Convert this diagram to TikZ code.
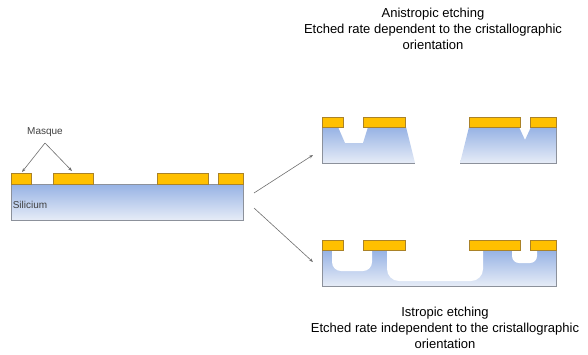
\documentclass[tikz,border=0pt]{standalone}
\usepackage{fontspec}
\setmainfont{Liberation Sans}
\usepackage{tikz}
\usetikzlibrary{arrows.meta}

\definecolor{siltop}{RGB}{150,178,228}
\definecolor{silbot}{RGB}{230,236,247}
\definecolor{maskfill}{RGB}{255,192,0}
\definecolor{maskline}{RGB}{170,130,40}
\definecolor{edge}{RGB}{140,145,155}
\definecolor{arrowgray}{RGB}{110,110,110}

\begin{document}
\begin{tikzpicture}[x=1pt, y=-1pt,
    mask/.style={fill=maskfill, draw=maskline, line width=0.6pt},
    silicon/.style={top color=siltop, bottom color=silbot},
    border/.style={draw=edge, line width=0.8pt},
    pointer/.style={draw=arrowgray, line width=0.6pt, -{Stealth[length=4pt,width=3pt]}},
    caption/.style={align=center, font=\fontsize{13}{16}\selectfont},
    tag/.style={font=\fontsize{10}{12}\selectfont, text=black!75, inner sep=0pt}]
    \useasboundingbox (0,0) rectangle (588,354);

    % wafer before etching
    \shade[silicon] (11,184) rectangle (243,220);
    \draw[border] (11,184) rectangle (243,220);
    \foreach \a/\b in {11/31, 53/93, 157/208, 218/243}
        \filldraw[mask] (\a,173) rectangle (\b,184);
    \node[tag] (si) at (30,205) {Silicium};
    \node[tag] (masque) at (45,132) {Masque};
    \coordinate (apex) at (45,143);
    \coordinate (m1) at (22,172);
    \coordinate (m2) at (72,171);
    \draw[pointer] (apex) -- (m1);
    \draw[pointer] (apex) -- (m2);

    % anisotropic: trench and V groove
    \shade[silicon] (322,127) -- (338,127) -- (345,143) -- (363,143) -- (368,127)
        -- (406,127) -- (415,163) -- (322,163) -- cycle;
    \draw[border] (322,127) -- (322,163) -- (415,163);
    \shade[silicon] (469,127) -- (519,127) -- (525,140) -- (531,127) -- (556,127)
        -- (556,163) -- (460,163) -- cycle;
    \draw[border] (460,163) -- (556,163) -- (556,127);

    % isotropic: rounded cavities under the openings
    \shade[silicon] (322,250) rectangle (556,286);
    \fill[white, rounded corners=9] (332,249) -- (332,271) -- (372,271) -- (372,249);
    \fill[white, rounded corners=12] (387,249) -- (387,281) -- (483,281) -- (483,249);
    \fill[white, rounded corners=7] (512,249) -- (512,263) -- (537,263) -- (537,249);
    \draw[border] (322,250) -- (322,286) -- (556,286) -- (556,250);

    \foreach \y in {117,240}
    \foreach \a/\b in {322/343, 363/405, 469/520, 530/556}
        \filldraw[mask] (\a,\y) rectangle (\b,{\y+10});

    % branches
    \coordinate (src up) at (254,193);
    \coordinate (dst up) at (313,155);
    \coordinate (src down) at (254,208);
    \coordinate (dst down) at (313,262);
    \draw[pointer] (src up) -- (dst up);
    \draw[pointer] (src down) -- (dst down);

    \node[caption] (aniso) at (433,29)
        {Anistropic etching\\Etched rate dependent to the cristallographic\\orientation};
    \node[caption] (iso) at (445,328)
        {Istropic etching\\Etched rate independent to the cristallographic\\orientation};
\end{tikzpicture}
\end{document}
